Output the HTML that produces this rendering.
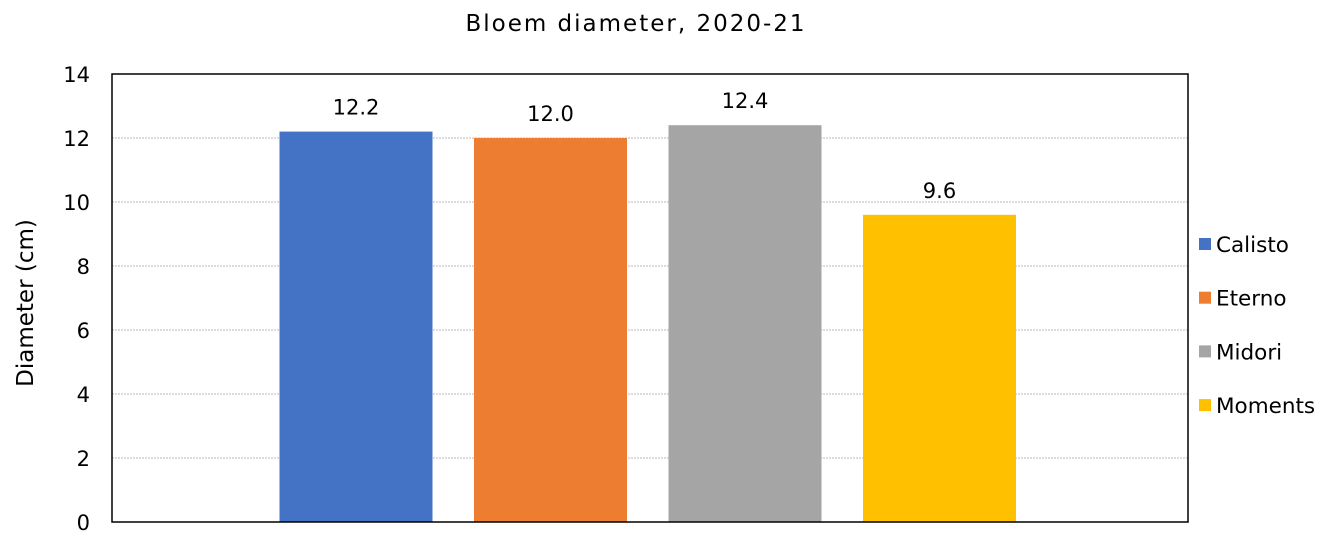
<!DOCTYPE html>
<html><head><meta charset="utf-8"><style>
body{margin:0;background:#fff;}
svg text{font-family:"DejaVu Sans","Liberation Sans",sans-serif;fill:#000;}
</style></head><body>
<svg width="1338" height="540" xmlns="http://www.w3.org/2000/svg">
<text x="636" y="31" font-size="23" letter-spacing="2" text-anchor="middle">Bloem diameter, 2020-21</text>
<text transform="translate(33,303) rotate(-90)" font-size="23" text-anchor="middle">Diameter (cm)</text>
<g id="grid"></g><g id="bars"></g><g id="legend"></g>
<rect x="112" y="74" width="1076" height="448" fill="none" stroke="#000" stroke-width="1.5"/>
</svg>
<script>
const categories=["Calisto","Eterno","Midori","Moments"];
const values=[12.2,12.0,12.4,9.6];
const colors=["#4472c4","#ed7d31","#a5a5a5","#ffc000"];
const ticks=[0,2,4,6,8,10,12,14];
const NS="http://www.w3.org/2000/svg";
const L=112,R=1188,T=74,B=522,maxV=14;
const y=v=>B-(v/maxV)*(B-T);
const barW=153,step=194.5,first=356;
function mk(tag,attrs,parent){const e=document.createElementNS(NS,tag);for(const k in attrs)e.setAttribute(k,attrs[k]);parent.appendChild(e);return e;}
const grid=document.getElementById('grid'),bars=document.getElementById('bars'),leg=document.getElementById('legend');
ticks.forEach(t=>{
 if(t>0&&t<14){const l=mk('line',{x1:L,x2:R,y1:y(t),y2:y(t),stroke:'#d0d0d0','stroke-width':1.5,'stroke-dasharray':'2,1'},grid);
 
 }
 const tx=mk('text',{x:90,y:y(t)+8,'font-size':21,'text-anchor':'end'},grid);tx.textContent=t;
 
 
});
values.forEach((v,i)=>{
 const cx=first+i*step;
 const r=mk('rect',{x:cx-barW/2,y:y(v),width:barW,height:B-y(v),fill:colors[i]},bars);
 
 
 const t=mk('text',{x:cx,y:y(v)-17,'font-size':21,'text-anchor':'middle'},bars);t.textContent=v.toFixed(1);
 
 
 const ly=244+i*53.7;
 const s=mk('rect',{x:1199,y:ly-6,width:12,height:12,fill:colors[i]},leg);
 
 
 const lt=mk('text',{x:1216,y:ly+8,'font-size':21.5},leg);lt.textContent=categories[i];
 
 
});
</script>
</body></html>
